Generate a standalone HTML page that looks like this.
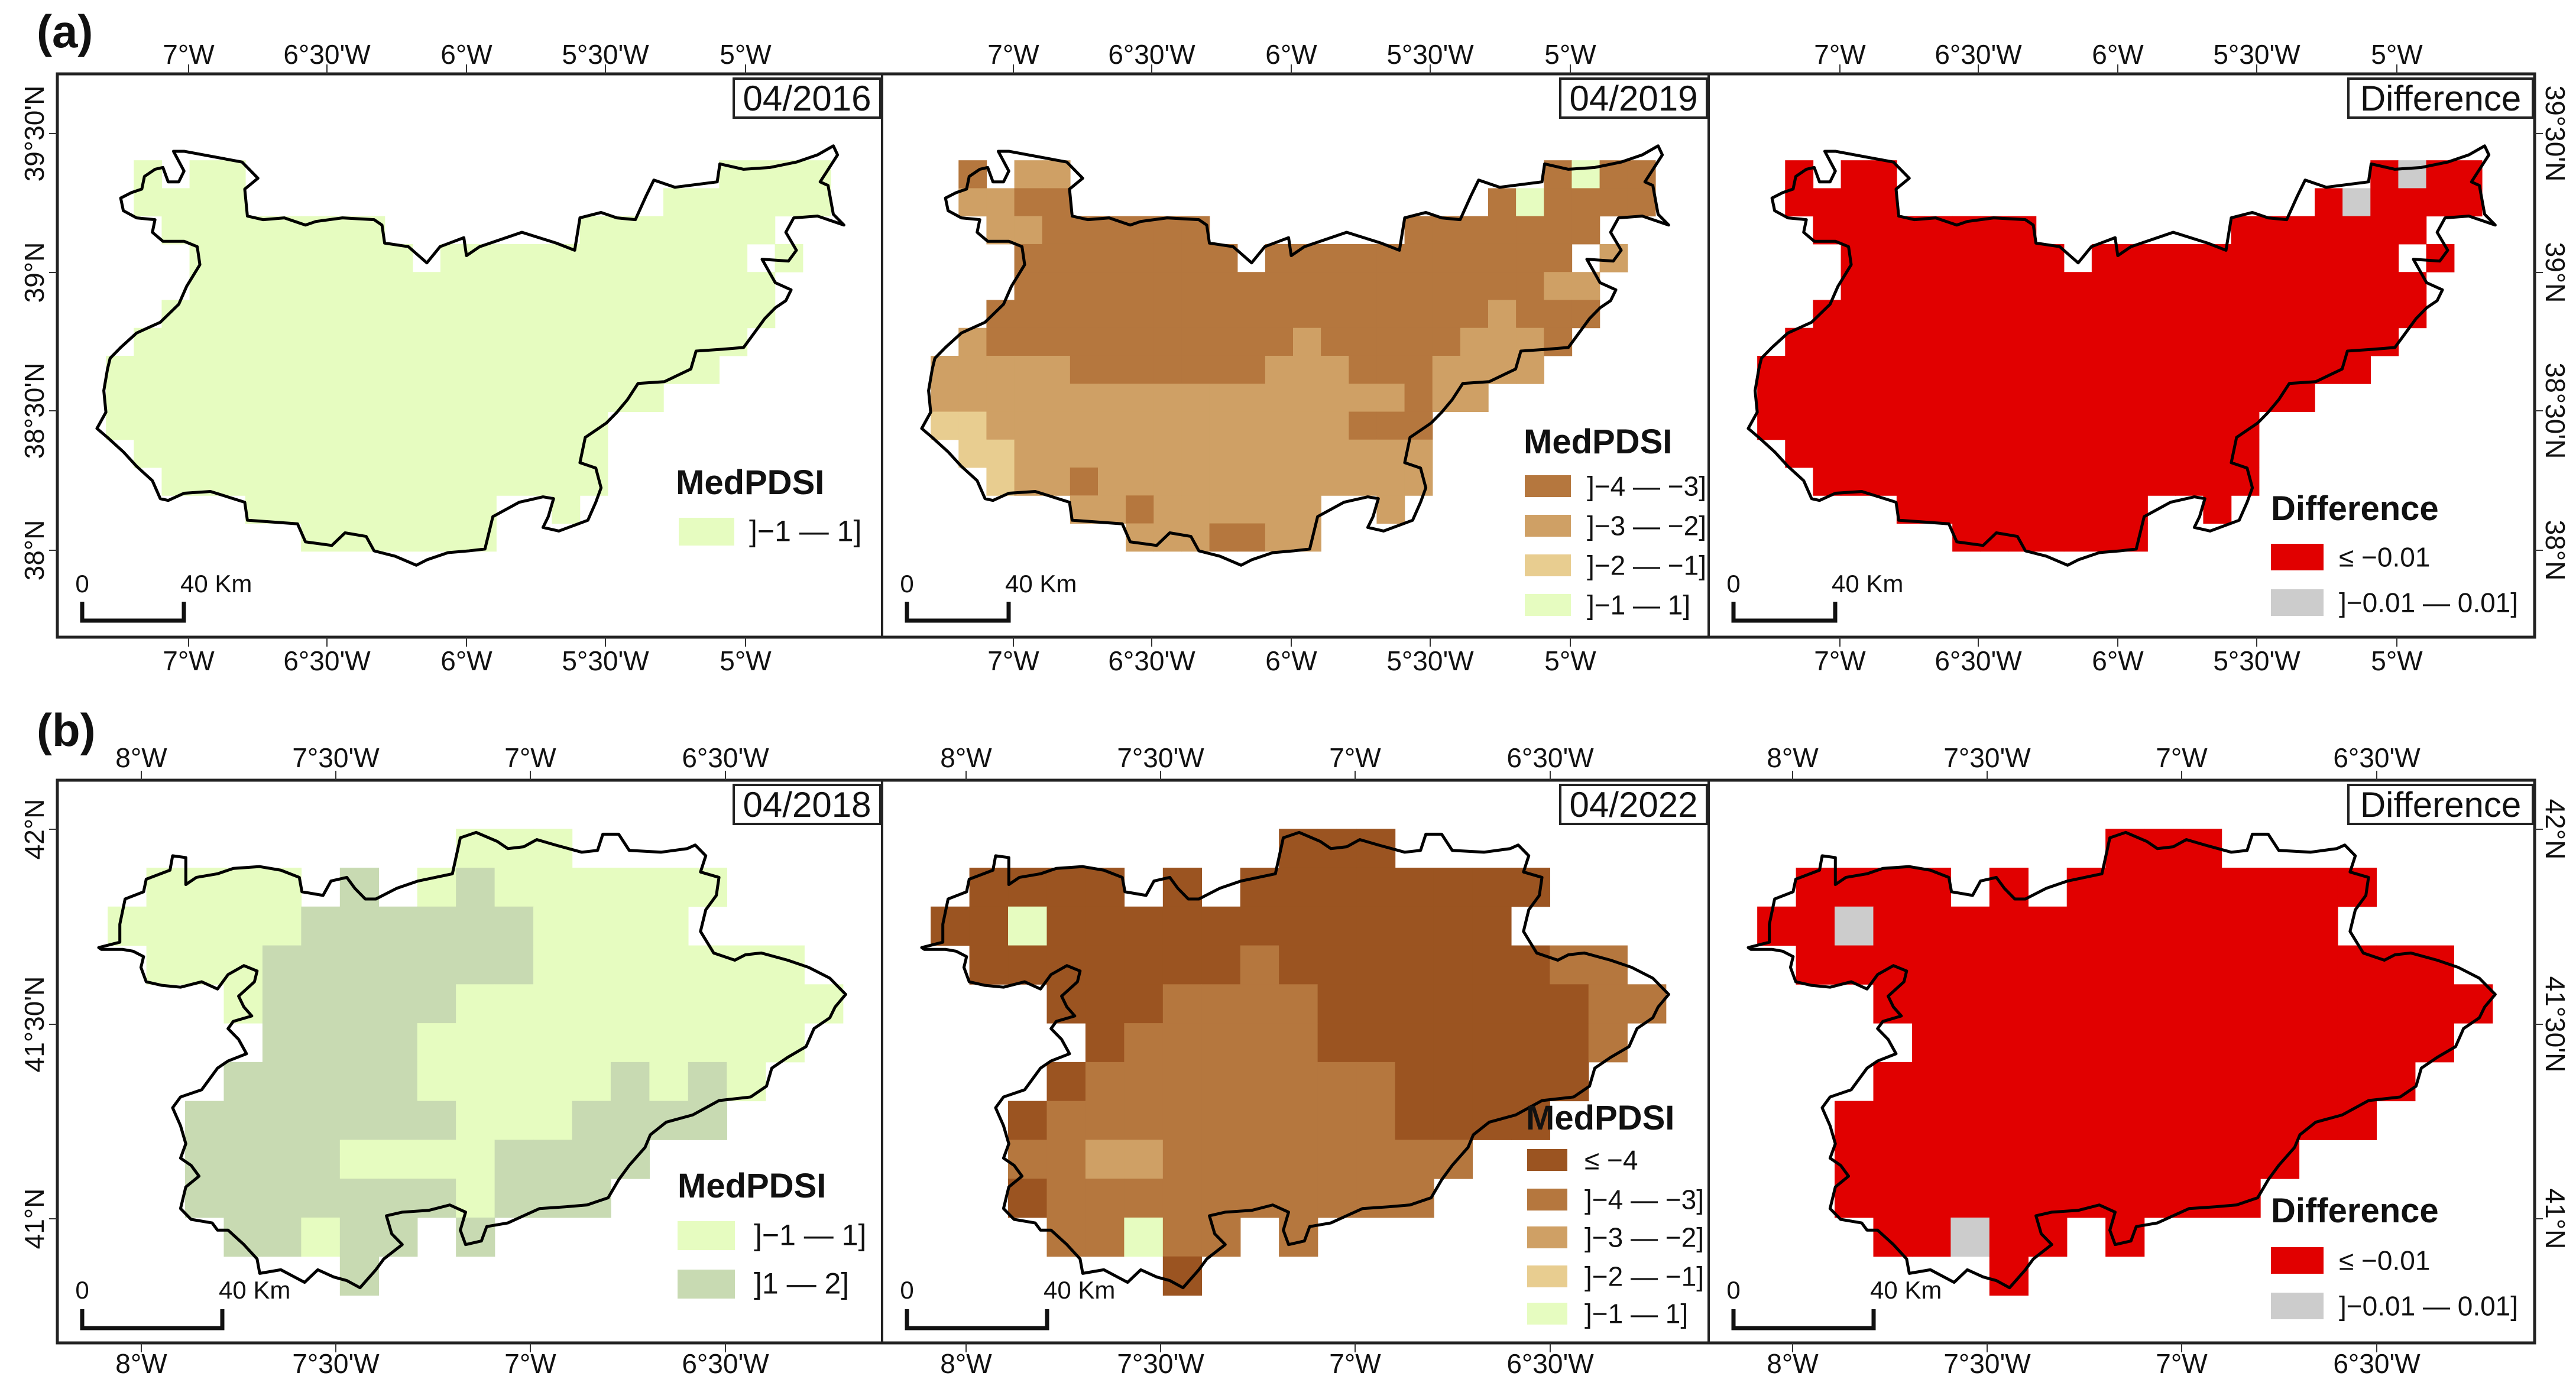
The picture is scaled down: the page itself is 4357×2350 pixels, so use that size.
<!DOCTYPE html>
<html><head><meta charset="utf-8">
<style>
html,body{margin:0;padding:0;background:#fff;}
svg{display:block;}
text{font-family:"Liberation Sans Narrow","Liberation Sans",Arial,sans-serif;fill:#111;}
</style></head>
<body>
<svg id="fig" xmlns="http://www.w3.org/2000/svg" width="4357" height="2350" viewBox="0 0 4357 2350">
<rect x="0" y="0" width="4357" height="2350" fill="#fff"/>
</svg>
<script>
const gridA2019 = [
".D.MM.................DGDD",
".MMDD...............DGDDDD",
"..MMDDDDDD.......DDDDDDD..",
"...DDDDDDDD.DDDDDDDDDDD.M.",
"...DDDDDDDDDDDDDDDDDDDMM..",
"..DDDDDDDDDDDDDDDDDDMDDD..",
".MDDDDDDDDDDDMDDDDDMMMD...",
"MMMMMDDDDDDDMMMDDDMMMM....",
"MMMMMMMMMMMMMMMMMDMM......",
"LLMMMMMMMMMMMMMDDD........",
".LLMMMMMMMMMMMMMMM........",
"..LMMDMMMMMMMMMMMM........",
".....MMDMMMMMM..M.........",
".......MMMDDMM............"
];
const gridB2022 = [
".........VVV........",
".VVVV.V.VVVVVVVV....",
"VVGVVVVVVVVVVVV.....",
".VVVVVVVDVVVVVVVDD..",
"...VVVDDDDVVVVVVVDD.",
"....VDDDDDVVVVVVVD..",
"...VDDDDDDDDVVVVV...",
"..VDDDDDDDDDVVVV....",
"..DDMMDDDDDDDD......",
"..VDDDDDDDDDD.......",
"...DDGDD.D..........",
"......V............."
];
const gridB2018 = [
".........GGG........",
".GGGG.O.GOGGGGGG....",
"GGGGGOOOOOOGGGG.....",
".GGGOOOOOOOGGGGGGG..",
"...GOOOOOGGGGGGGGGG.",
"....OOOOGGGGGGGGGG..",
"...OOOOOGGGGGOGOG...",
"..OOOOOOOGGGOOOO....",
"..OOOOGGGGOOOO......",
"..OOOOOOOGOOO.......",
"...OOGOO.O..........",
"......O............."
];
const classColors = {D:"#b5773e",M:"#cfa065",L:"#e8cd90",G:"#e6fcc0",V:"#9b5421",O:"#c8dab2",R:"#e10000",Y:"#cccccc"};
const lonLabelsA = ["7°W","6°30'W","6°W","5°30'W","5°W"];
const lonLabelsB = ["8°W","7°30'W","7°W","6°30'W"];
const latLabelsA = ["39°30'N","39°N","38°30'N","38°N"];
const latLabelsB = ["42°N","41°30'N","41°N"];
const titles = ["04/2016","04/2019","Difference","04/2018","04/2022","Difference"];
const legendA1 = [["G","]−1 — 1]"]];
const legendA2 = [["D","]−4 — −3]"],["M","]−3 — −2]"],["L","]−2 — −1]"],["G","]−1 — 1]"]];
const legendDiff = [["R","≤  −0.01"],["Y","]−0.01 — 0.01]"]];
const legendB1 = [["G","]−1 — 1]"],["O","]1 — 2]"]];
const legendB2 = [["V","≤  −4"],["D","]−4 — −3]"],["M","]−3 — −2]"],["L","]−2 — −1]"],["G","]−1 — 1]"]];
const outlineA = [[75,985],[92,940],[88,880],[95,820],[100,790],[120,760],[150,720],[195,690],[230,640],[245,590],[270,530],[265,480],[240,465],[200,465],[180,440],[185,405],[150,400],[125,380],[120,345],[140,330],[160,320],[165,285],[185,265],[200,260],[210,300],[230,300],[240,270],[220,215],[240,215],[350,245],[380,290],[355,320],[360,395],[390,405],[430,400],[470,420],[490,410],[540,400],[600,405],[615,420],[620,470],[665,480],[700,525],[725,480],[770,455],[775,505],[800,480],[880,440],[945,470],[980,490],[990,400],[1030,385],[1060,400],[1095,405],[1115,340],[1130,295],[1170,315],[1250,300],[1255,250],[1300,265],[1350,260],[1400,245],[1440,225],[1470,200],[1478,225],[1445,300],[1460,310],[1470,390],[1490,420],[1440,395],[1395,400],[1380,440],[1400,490],[1385,520],[1335,515],[1360,580],[1390,600],[1380,630],[1360,650],[1340,680],[1300,760],[1260,765],[1210,770],[1200,820],[1150,855],[1100,860],[1080,905],[1060,940],[1040,970],[1000,1010],[990,1080],[1020,1095],[1030,1150],[1020,1190],[1005,1240],[950,1270],[920,1260],[930,1230],[940,1180],[920,1175],[875,1190],[825,1230],[810,1320],[780,1325],[740,1330],[700,1350],[680,1365],[640,1340],[600,1325],[585,1285],[545,1275],[520,1310],[470,1300],[455,1250],[360,1240],[355,1190],[290,1160],[240,1165],[210,1185],[195,1180],[180,1130],[150,1090],[125,1050],[95,1010]];
const outlineB = [[75,465],[115,450],[115,400],[125,330],[160,310],[165,275],[210,250],[215,210],[240,215],[240,290],[260,270],[300,260],[330,245],[380,240],[420,250],[455,270],[460,310],[500,320],[515,280],[545,270],[560,300],[580,330],[600,330],[640,300],[680,280],[745,260],[760,160],[790,145],[830,170],[850,190],[880,185],[905,165],[940,180],[990,200],[1020,195],[1030,150],[1060,150],[1080,195],[1140,200],[1190,190],[1205,180],[1225,210],[1215,255],[1250,270],[1245,320],[1225,360],[1215,420],[1240,480],[1280,500],[1300,485],[1330,480],[1380,500],[1420,520],[1460,550],[1490,595],[1470,630],[1460,660],[1430,690],[1415,740],[1380,770],[1350,800],[1340,850],[1310,880],[1250,890],[1200,930],[1150,950],[1120,985],[1110,1020],[1080,1070],[1060,1110],[1040,1160],[1000,1180],[960,1185],[910,1190],[880,1210],[850,1230],[810,1240],[800,1280],[770,1290],[760,1250],[770,1200],[740,1180],[700,1195],[650,1200],[620,1210],[630,1260],[650,1290],[615,1330],[600,1360],[570,1410],[545,1390],[520,1380],[490,1360],[465,1395],[420,1360],[380,1370],[375,1330],[350,1290],[320,1250],[300,1250],[290,1230],[250,1220],[230,1190],[240,1130],[265,1100],[250,1070],[230,1050],[240,1010],[230,960],[215,910],[230,880],[270,860],[300,800],[320,780],[355,760],[340,720],[320,690],[330,670],[365,655],[350,630],[340,600],[370,560],[375,530],[350,515],[320,540],[300,580],[270,560],[230,575],[195,570],[165,560],[155,520],[160,490],[140,475],[120,470],[80,470]];

const NS="http://www.w3.org/2000/svg";
const svg=document.getElementById('fig');
function mk(tag,attrs,parent){const e=document.createElementNS(NS,tag);for(const k in attrs)e.setAttribute(k,attrs[k]);(parent||svg).appendChild(e);return e;}
function txt(s,attrs,parent){const e=mk('text',attrs,parent);e.textContent=s;return e;}

const rowA={top:125,bottom:1078}, rowB={top:1320,bottom:2272};
const panelX=[97,1492,2890], panelR=4287;
const lonOffA=[222,456,692,927,1164], lonOffB=[142,471,800,1130];
const latYA=[226,461,695,931], latYB=[1403,1733,2062];

[rowA,rowB].forEach((r,i)=>{
  const f=mk('rect',{x:97,y:r.top,width:panelR-97,height:r.bottom-r.top,fill:'none',stroke:'#222','stroke-width':5});
  
  
  [1492,2890].forEach(x=>{const l=mk('line',{x1:x,y1:r.top,x2:x,y2:r.bottom,stroke:'#222','stroke-width':4});
    
    });
});

function drawPanel(pi,X0,row,grid,mapFn,cw,rh,ry0,outline,gx0){
  const g=mk('g',{transform:`translate(${gx0},${row.top}) scale(${1/1.12},${1/1.642})`});
  
  
  grid.forEach((rowStr,r)=>{
    for(let c=0;c<rowStr.length;c++){
      const ch=rowStr[c]; if(ch==='.')continue;
      const cls=mapFn(ch);
      const cell=mk('rect',{x:92+cw*c,y:ry0+rh*r,width:cw+0.8,height:rh+0.8,fill:classColors[cls]},g);
      
      
    }
  });
  const pts=outline.map(p=>p.join(',')).join(' ');
  const ol=mk('polygon',{points:pts,fill:'none',stroke:'#000','stroke-width':5,'vector-effect':'non-scaling-stroke','stroke-linejoin':'round'},g);
  
  
}
const id=c=>c, allG=c=>'G', diff=c=>c==='G'?'Y':'R';
drawPanel(0,97,rowA,gridA2019,allG,52.8,77.6,240,outlineA,97);
drawPanel(1,1492,rowA,gridA2019,id,52.8,77.6,240,outlineA,1492);
drawPanel(2,2890,rowA,gridA2019,diff,52.8,77.6,240,outlineA,2890);
drawPanel(3,97,rowB,gridB2018,id,73.3,108,135,outlineB,100);
drawPanel(4,1492,rowB,gridB2022,id,73.3,108,135,outlineB,1492);
drawPanel(5,2890,rowB,gridB2022,diff,73.3,108,135,outlineB,2890);

function lonAxis(row,offs,labels,topBase,botBase){
  panelX.forEach(X0=>{
    offs.forEach((o,i)=>{
      const x=X0+o;
      const t1=mk('line',{x1:x,y1:row.top-16,x2:x,y2:row.top,stroke:'#333','stroke-width':2});
      
      
      const t2=mk('line',{x1:x,y1:row.bottom,x2:x,y2:row.bottom+16,stroke:'#333','stroke-width':2});
      
      
      const a=txt(labels[i],{x:x,y:topBase,'text-anchor':'middle','font-size':46});
      
      
      const b=txt(labels[i],{x:x,y:botBase,'text-anchor':'middle','font-size':46});
      
      
    });
  });
}
lonAxis(rowA,lonOffA,lonLabelsA,108,1134);
lonAxis(rowB,lonOffB,lonLabelsB,1298,2323);
function latAxis(ys,labels){
  ys.forEach((y,i)=>{
    const t1=mk('line',{x1:83,y1:y,x2:97,y2:y,stroke:'#333','stroke-width':2});
    
    
    const t2=mk('line',{x1:panelR,y1:y,x2:panelR+14,y2:y,stroke:'#333','stroke-width':2});
    
    
    const a=txt(labels[i],{x:74,y:y,'text-anchor':'middle','font-size':46,transform:`rotate(-90 74 ${y})`});
    
    
    const b=txt(labels[i],{x:4306,y:y,'text-anchor':'middle','font-size':46,transform:`rotate(90 4306 ${y})`});
    
    
  });
}
latAxis(latYA,latLabelsA);
latAxis(latYB,latLabelsB);

titles.forEach((t,i)=>{
  const X1=(i%3===2)?panelR:panelX[(i%3)+1];
  const top=i<3?rowA.top:rowB.top;
  const w=t==='Difference'?312:248;
  const b=mk('rect',{x:X1-w-3,y:top+8,width:w,height:66,fill:'#fff',stroke:'#222','stroke-width':4});
  
  
  const tt=txt(t,{x:X1-w/2-3,y:top+62,'text-anchor':'middle','font-size':60});
  
  
});

function legend(title,x,baseY,items,swX,sw,sh,rows,labX,fs){
  const t=txt(title,{x:x,y:baseY,'font-size':58,'font-weight':'bold',style:'font-family:"Liberation Sans",Arial,sans-serif'});
  
  
  items.forEach((it,i)=>{
    const r=mk('rect',{x:swX,y:rows[i],width:sw,height:sh,fill:classColors[it[0]]});
    
    
    const l=txt(it[1],{x:labX,y:rows[i]+sh/2+16,'font-size':fs});
    
    
  });
}
legend('MedPDSI',1143,836,legendA1,1148,94,47,[876],1267,50);
legend('MedPDSI',2577,767,legendA2,2579,78,37,[804,871,938,1005],2684,46);
legend('Difference',3841,880,legendDiff,3841,89,45,[920,997],3956,46);
legend('MedPDSI',1146,2026,legendB1,1146,97,49,[2066,2148],1275,50);
legend('MedPDSI',2581,1911,legendB2,2583,68,37,[1944,2011,2075,2141,2204],2680,46);
legend('Difference',3841,2068,legendDiff,3841,89,45,[2110,2187],3956,46);

function scaleBar(X0,barW,topY,textBase){
  const p=mk('path',{d:`M${X0+42},${topY} V${topY+32} H${X0+42+barW} V${topY}`,fill:'none',stroke:'#111','stroke-width':7});
  
  
  const a=txt('0',{x:X0+42,y:textBase,'text-anchor':'middle','font-size':42});
  
  
  const b=txt('40 Km',{x:X0+42+barW-6,y:textBase,'font-size':42});
  
  
}
panelX.forEach(X0=>scaleBar(X0,172,1018,1002));
panelX.forEach(X0=>scaleBar(X0,237,2215,2197));

const la=txt('(a)',{x:62,y:80,'font-size':78,'font-weight':'bold',style:'font-family:"Liberation Sans",Arial,sans-serif'});


const lb=txt('(b)',{x:62,y:1262,'font-size':78,'font-weight':'bold',style:'font-family:"Liberation Sans",Arial,sans-serif'});


</script>
</body></html>
